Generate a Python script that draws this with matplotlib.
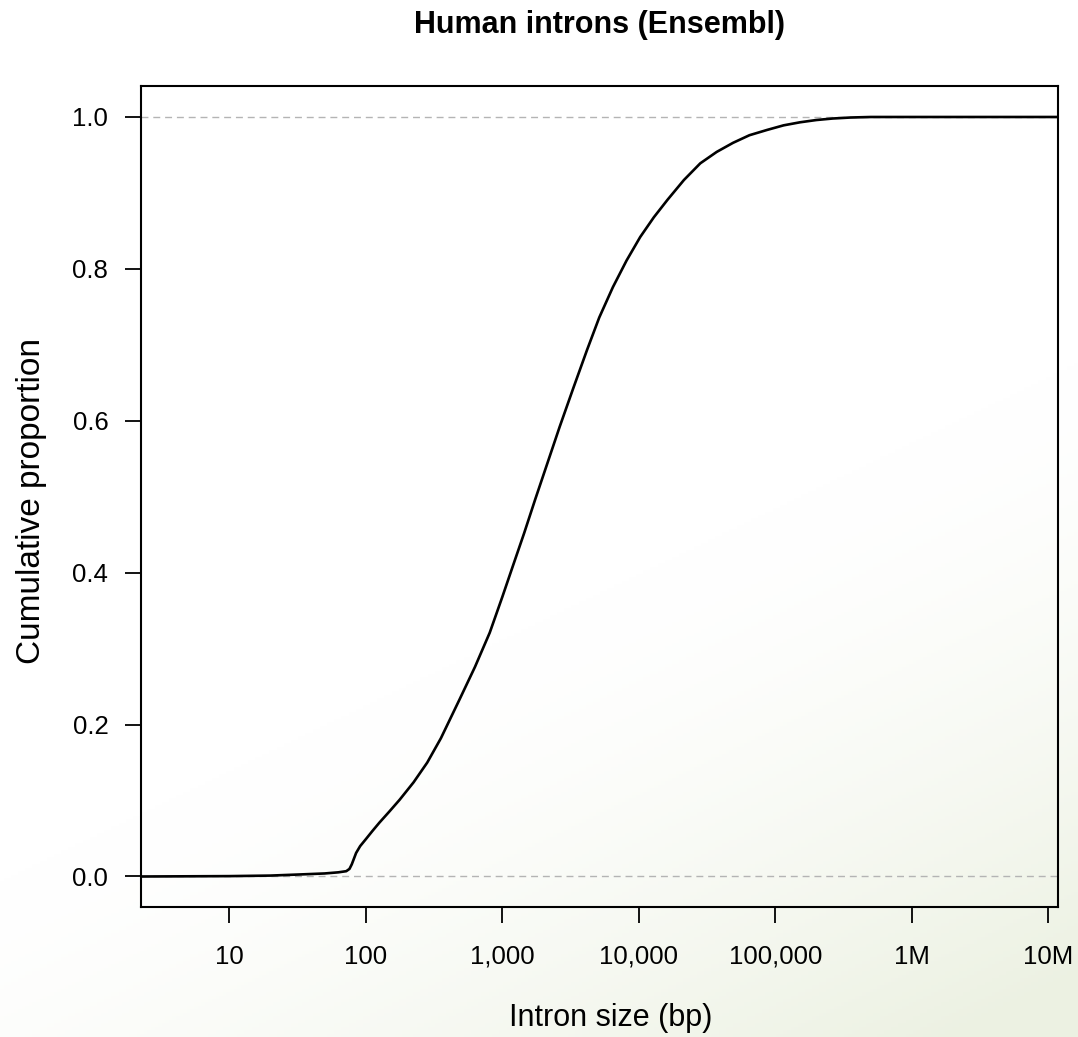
import numpy as np
import matplotlib
matplotlib.use("Agg")
import matplotlib.pyplot as plt
from matplotlib.ticker import FixedLocator, FixedFormatter, NullLocator

plt.rcParams['font.family'] = ['Liberation Sans', 'DejaVu Sans']

# ---- data ----
intron_size_bp = [2.26, 10, 20, 32, 50, 63, 72, 76, 79, 85, 91, 100, 112, 126, 148,
                  177, 224, 282, 355, 486, 631, 809, 1000, 1191, 1445, 1738, 2138,
                  2630, 3311, 4169, 5129, 6457, 8128, 10233, 12882, 16218, 21380,
                  28184, 37154, 48978, 64565, 87096, 114815, 151356, 199526, 263027,
                  354813, 501187, 11600000]
cumulative_prop = [0.0, 0.0005, 0.0012, 0.0026, 0.004, 0.0055, 0.0070, 0.010, 0.016,
                   0.031, 0.040, 0.049, 0.060, 0.071, 0.085, 0.101, 0.124, 0.150,
                   0.182, 0.233, 0.276, 0.321, 0.368, 0.408, 0.452, 0.496, 0.544,
                   0.592, 0.643, 0.693, 0.736, 0.776, 0.811, 0.842, 0.868, 0.891,
                   0.917, 0.939, 0.954, 0.966, 0.976, 0.983, 0.989, 0.993, 0.996,
                   0.998, 0.9993, 1.0, 1.0]
x_ticks = [10, 100, 1000, 10000, 100000, 1000000, 10000000]
x_tick_labels = ["10", "100", "1,000", "10,000", "100,000", "1M", "10M"]
y_ticks = [0.0, 0.2, 0.4, 0.6, 0.8, 1.0]
y_tick_labels = ["0.0", "0.2", "0.4", "0.6", "0.8", "1.0"]
ref_lines = [0.0, 1.0]

W, H = 1078, 1037
fig = plt.figure(figsize=(W / 100, H / 100), dpi=100)
fig.patch.set_facecolor('white')

# faint slide-background gradient
bg = fig.add_axes([0, 0, 1, 1], zorder=-10)
gx, gy = np.meshgrid(np.linspace(0, 1, 300), np.linspace(0, 1, 300))
t = np.clip((0.5 * gx + 1.0 * gy - 0.85) / 0.6, 0, 1) ** 1.5
white = np.array([1.0, 1.0, 1.0])
tint = np.array([236, 241, 226]) / 255.0
img = white[None, None, :] * (1 - t[..., None]) + tint[None, None, :] * t[..., None]
bg.imshow(img, extent=[0, 1, 0, 1], aspect='auto', origin='upper')
bg.axis('off')

ax = fig.add_axes([141 / W, (H - 906.5) / H, (1057.5 - 141) / W, (906.5 - 86) / H])
ax.set_facecolor('none')

for yv in ref_lines:
    ax.axhline(yv, color='#b4b4b4', lw=1.0, dashes=(5, 3.5), zorder=1)

ax.plot(intron_size_bp, cumulative_prop, color='black', lw=1.9, zorder=3,
        solid_joinstyle='round')

ax.set_xscale('log')
ax.set_xlim(2.26, 1.164e7)
ax.set_ylim(-0.0395, 1.0408)

ax.xaxis.set_major_locator(FixedLocator(x_ticks))
ax.xaxis.set_major_formatter(FixedFormatter(x_tick_labels))
ax.xaxis.set_minor_locator(NullLocator())
ax.yaxis.set_major_locator(FixedLocator(y_ticks))
ax.yaxis.set_major_formatter(FixedFormatter(y_tick_labels))

ax.tick_params(axis='x', direction='out', length=11.5, width=1.3, pad=16,
               labelsize=18.5, colors='black')
ax.tick_params(axis='y', direction='out', length=11.5, width=1.3, pad=12,
               labelsize=18.5, colors='black')
for s in ax.spines.values():
    s.set_linewidth(1.5)
    s.set_color('black')

ax.set_xlabel("Intron size (bp)", fontsize=22)
ax.set_ylabel("Cumulative proportion", fontsize=24)
ax.xaxis.set_label_coords((611 - 141) / (1057.5 - 141), -0.118)
ax.yaxis.set_label_coords(-0.1025, (906.5 - 501) / (906.5 - 86))
ax.set_title("Human introns (Ensembl)", fontsize=22, fontweight='bold', pad=38)

fig.savefig("out.png", dpi=100, facecolor=fig.get_facecolor())
